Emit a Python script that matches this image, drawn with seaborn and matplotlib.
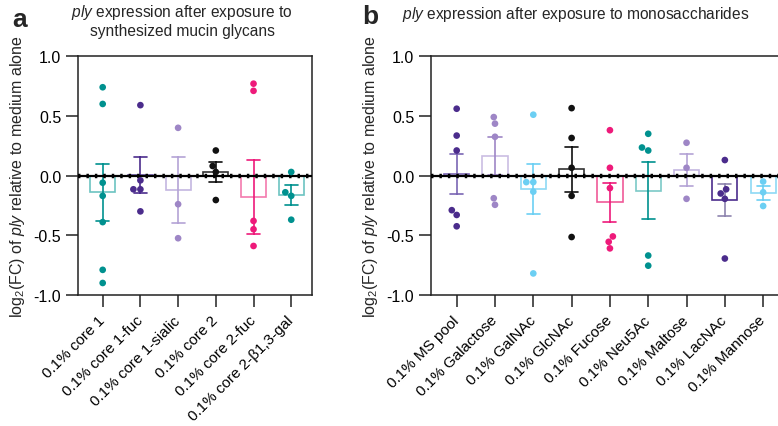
import numpy as np
import pandas as pd
import matplotlib
matplotlib.use("Agg")
import matplotlib.pyplot as plt
import matplotlib.transforms as mtransforms
import seaborn as sns

# ---------------- data ----------------
cats_a = ["0.1% core 1", "0.1% core 1-fuc", "0.1% core 1-sialic",
          "0.1% core 2", "0.1% core 2-fuc", "0.1% core 2-β1,3-gal"]
core1 = [0.74, 0.60, -0.06, -0.17, -0.39, -0.79, -0.90]
core1_fuc = [0.59, -0.04, -0.115, -0.115, -0.30]
core1_sialic = [0.40, -0.24, -0.525]
core2 = [0.21, 0.08, 0.03, -0.205]
core2_fuc = [0.77, 0.71, -0.38, -0.45, -0.59, -1.13]
core2_gal = [0.03, -0.14, -0.17, -0.37]
vals_a = [core1, core1_fuc, core1_sialic, core2, core2_fuc, core2_gal]

cats_b = ["0.1% MS pool", "0.1% Galactose", "0.1% GalNAc", "0.1% GlcNAc",
          "0.1% Fucose", "0.1% Neu5Ac", "0.1% Maltose", "0.1% LacNAc",
          "0.1% Mannose"]
ms_pool = [0.56, 0.335, 0.21, -0.29, -0.33, -0.425]
galactose = [0.49, 0.435, 0.325, -0.19, -0.245]
galnac = [0.51, -0.055, -0.055, -0.135, -0.82]
glcnac = [0.565, 0.315, 0.065, -0.17, -0.515]
fucose = [0.38, 0.065, -0.105, -0.51, -0.555, -0.61]
neu5ac = [0.35, 0.235, 0.21, -0.67, -0.755]
maltose = [0.275, 0.065, -0.195]
lacnac = [0.13, -0.15, -0.115, -0.195, -0.695]
mannose = [-0.05, -0.14, -0.255]
vals_b = [ms_pool, galactose, galnac, glcnac, fucose, neu5ac, maltose,
          lacnac, mannose]

yticks = [-1.0, -0.5, 0.0, 0.5, 1.0]
ytick_labels = ["-1.0", "-0.5", "0.0", "0.5", "1.0"]

# ---------------- styles ----------------
TEAL = "#00918F"
DPUR = "#4B2C8C"
LPUR = "#9E86C6"
BLK = "#111111"
PINK = "#EE1A7A"
LBLU = "#6CCFF3"

pt_a = [TEAL, DPUR, LPUR, BLK, PINK, TEAL]
edge_a = ["#6CC3C1", "#6A55A6", "#C4B6E0", "#333333", "#F47AAE", "#6CC3C1"]
err_a = [TEAL, DPUR, "#B4A3D6", BLK, PINK, TEAL]

pt_b = [DPUR, LPUR, LBLU, BLK, PINK, TEAL, LPUR, DPUR, LBLU]
edge_b = ["#7A66B4", "#CBBDE3", "#8ED9F5", "#333333", "#F05A98", "#7CC9C7",
          "#C4B6E0", DPUR, "#8ED9F5"]
err_b = ["#7A66B4", "#9E86C6", LBLU, BLK, PINK, TEAL, "#B4A3D6", "#8E84AE",
         LBLU]

sns.set_theme(style="ticks")
plt.rcParams.update({
    "font.family": ["Liberation Sans", "DejaVu Sans"],
    "mathtext.fontset": "custom",
    "mathtext.rm": "Liberation Sans",
    "mathtext.it": "Liberation Sans:italic",
    "mathtext.bf": "Liberation Sans:bold",
    "axes.unicode_minus": False,
    "font.size": 11.5,
})

fig = plt.figure(figsize=(7.78, 4.27), dpi=100)
ax_a = fig.add_axes([0.100, 0.307, 0.301, 0.559])
ax_b = fig.add_axes([0.554, 0.307, 0.454, 0.559])

SPINE = "#222222"


def panel(ax, cats, vals, pts, edges, errs, xlim):
    df = pd.DataFrame({
        "cond": [c for c, v in zip(cats, vals) for _ in v],
        "val": [x for v in vals for x in v],
    })
    sns.barplot(data=df, x="cond", y="val", hue="cond", order=cats,
                hue_order=cats, palette=dict(zip(cats, edges)), fill=False,
                errorbar=None, width=0.66, linewidth=1.2, legend=False, ax=ax)
    sns.pointplot(data=df, x="cond", y="val", hue="cond", order=cats,
                  hue_order=cats, palette=dict(zip(cats, errs)),
                  errorbar="se", capsize=0.34, linestyle="none", marker="",
                  err_kws={"linewidth": 1.2}, legend=False, ax=ax)
    ax.axhline(0, color="black", lw=1.6, zorder=5)
    ax.axhline(0, color="black", lw=3.2, ls=(0, (0.55, 1.35)), zorder=5)
    sns.swarmplot(data=df, x="cond", y="val", hue="cond", order=cats,
                  hue_order=cats, palette=dict(zip(cats, pts)), size=4.8,
                  linewidth=0, legend=False, ax=ax, zorder=6)
    ax.set_ylim(-1.0, 1.0)
    ax.set_xlim(*xlim)
    ax.set_yticks(yticks)
    ax.set_yticklabels(ytick_labels, fontsize=11.5)
    ax.set_xticks(range(len(cats)))
    ax.set_xticklabels(cats, rotation=45, ha="right", va="center",
                       rotation_mode="anchor", fontsize=11)
    offset = mtransforms.ScaledTranslation(4 / 100, -5 / 100,
                                           fig.dpi_scale_trans)
    for lab in ax.get_xticklabels():
        lab.set_transform(lab.get_transform() + offset)
    ax.set_xlabel("")
    ax.set_ylabel(r"log$_2$(FC) of $\it{ply}$ relative to medium alone",
                  fontsize=11.5, labelpad=5)
    for s in ax.spines.values():
        s.set_visible(True)
        s.set_color(SPINE)
        s.set_linewidth(1.1)
    ax.tick_params(axis="both", length=8.5, width=1.1, color=SPINE,
                   labelcolor="black", direction="out")
    ax.tick_params(axis="x", pad=8)
    ax.set_facecolor("white")


panel(ax_a, cats_a, vals_a, pt_a, edge_a, err_a, (-0.66, 5.55))
panel(ax_b, cats_b, vals_b, pt_b, edge_b, err_b, (-0.67, 8.55))

fig.text(182 / 778, 1 - 21 / 427,
         "$\\it{ply}$ expression after exposure to\nsynthesized mucin glycans",
         ha="center", va="center", fontsize=11.2, linespacing=1.1)
fig.text(576 / 778, 1 - 14 / 427,
         "$\\it{ply}$ expression after exposure to monosaccharides",
         ha="center", va="center", fontsize=11.2)
fig.text(12 / 778, 1 - 20 / 427, "a", fontsize=19, fontweight="bold",
         ha="left", va="center")
fig.text(362 / 778, 1 - 17 / 427, "b", fontsize=19, fontweight="bold",
         ha="left", va="center")

fig.savefig("out.png", dpi=100, facecolor="white")
